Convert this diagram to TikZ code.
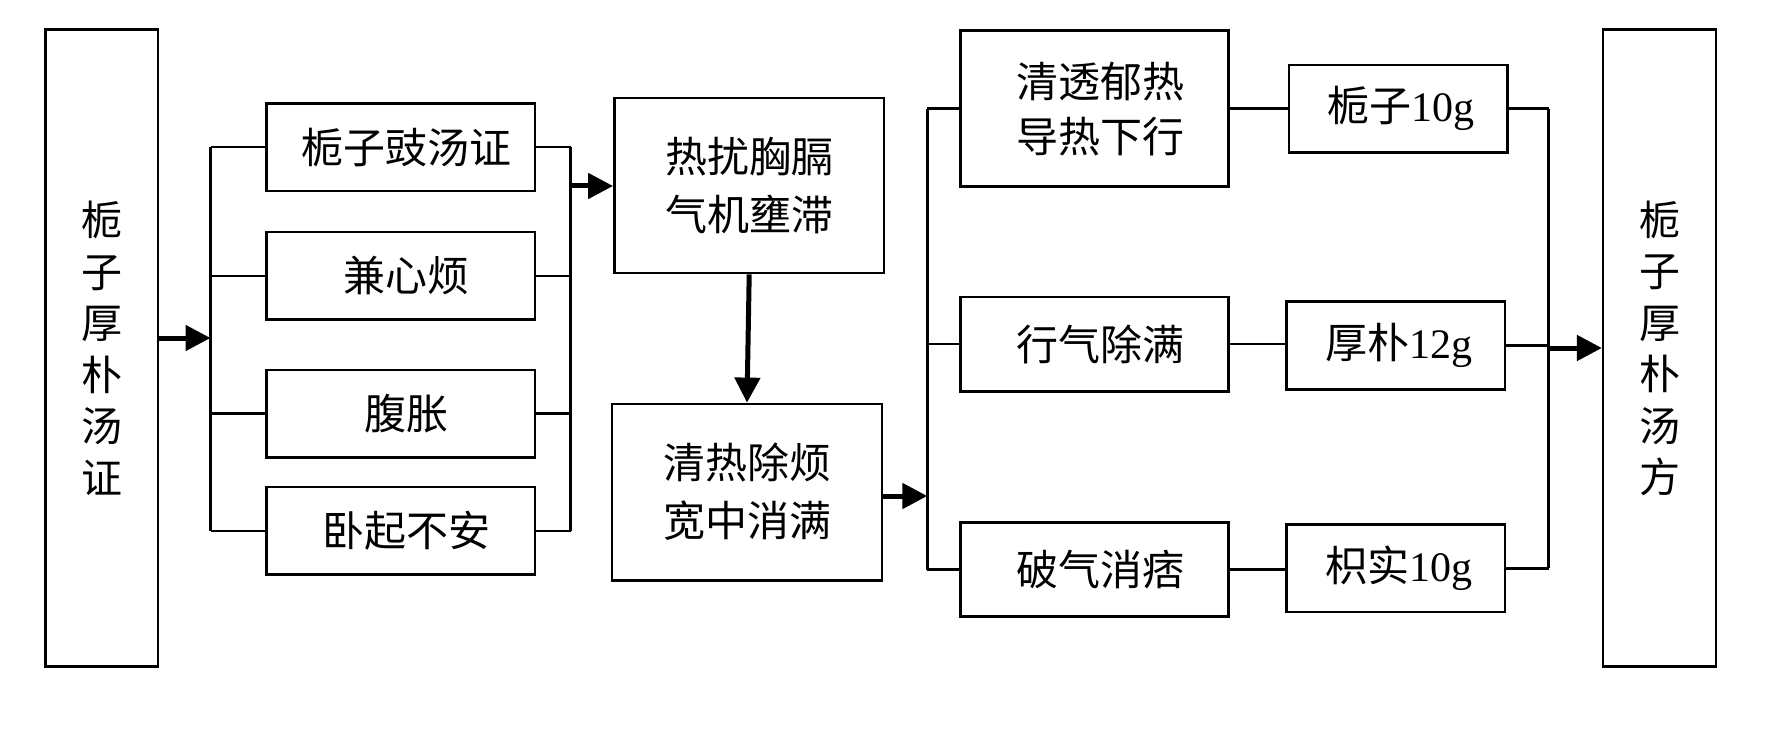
\documentclass[tikz,border=0pt]{standalone}
\usepackage{fontspec}
\setmainfont{Liberation Serif}
\newfontfamily\cjk{Noto Sans CJK SC}
\usetikzlibrary{arrows.meta}
\begin{document}
\begin{tikzpicture}[x=1pt,y=-1pt,
  bx/.style={draw, line width=2.6pt, inner sep=0pt, align=center,
    font=\cjk\fontsize{42}{58}\selectfont},
  tall/.style={bx, minimum width=112.7pt, minimum height=637pt,
    font=\cjk\fontsize{41}{51.5}\selectfont},
  conn/.style={line width=2.4pt},
  arr/.style={line width=5pt, -{Triangle[length=25pt,width=25pt]}}]
\useasboundingbox (0,0) rectangle (1784,735);
% left and right tall boxes
\node[tall] (A) at (101.8,348.2) {栀\\子\\厚\\朴\\汤\\证};
\node[tall] (G) at (1659.5,348.2) {栀\\子\\厚\\朴\\汤\\方};
% symptom boxes
\node[bx, minimum width=268.6pt, minimum height=87.6pt] (B1) at (400.5,147.3) {\hspace*{12pt}栀子豉汤证};
\node[bx, minimum width=268.6pt, minimum height=87.6pt] (B2) at (400.5,275.9) {\hspace*{12pt}兼心烦};
\node[bx, minimum width=268.6pt, minimum height=87.6pt] (B3) at (400.5,413.6) {\hspace*{12pt}腹胀};
\node[bx, minimum width=268.6pt, minimum height=87.6pt] (B4) at (400.5,530.8) {\hspace*{12pt}卧起不安};
% middle boxes
\node[bx, minimum width=269.7pt, minimum height=175.2pt] (C) at (749.2,185.5) {热扰胸膈\\气机壅滞};
\node[bx, minimum width=269.7pt, minimum height=176.4pt] (D) at (747,492.1) {清热除烦\\宽中消满};
% function boxes
\node[bx, minimum width=268.5pt, minimum height=155.9pt, font=\cjk\fontsize{42}{55}\selectfont] (E1) at (1094.5,108.7) {\hspace*{12pt}清透郁热\\\hspace*{12pt}导热下行};
\node[bx, minimum width=268.5pt, minimum height=94.4pt] (E2) at (1094.5,344.2) {\hspace*{12pt}行气除满};
\node[bx, minimum width=268.5pt, minimum height=94.5pt] (E3) at (1094.5,569.5) {\hspace*{12pt}破气消痞};
% herb boxes
\node[bx, minimum width=218.6pt, minimum height=87.6pt] (F1) at (1398.3,108.7) {\hspace*{6pt}栀子{\rmfamily 10g}};
\node[bx, minimum width=218.6pt, minimum height=87.6pt] (F2) at (1395.5,345.5) {\hspace*{6pt}厚朴{\rmfamily 12g}};
\node[bx, minimum width=218.6pt, minimum height=87.6pt] (F3) at (1395.5,568.3) {\hspace*{6pt}枳实{\rmfamily 10g}};
% bus coordinates
\coordinate (busL) at (210.5,338);
\coordinate (busR) at (570.5,186);
\coordinate (busM) at (927.3,496);
\coordinate (busRR) at (1548.5,348);
% left group
\draw[arr] (A.east |- busL) -- (busL);
\draw[conn] (busL |- B1.west) -- (busL |- B4.west);
\foreach \n in {B1,B2,B3,B4} {
  \draw[conn] (busL |- \n.west) -- (\n.west);
  \draw[conn] (\n.east) -- (\n.east -| busR);
}
\draw[conn] (busR |- B1.east) -- (busR |- B4.east);
\draw[arr] (busR) -- (C.west |- busR);
% middle
\draw[arr] (C.south) -- (D.north);
\draw[arr] (D.east |- busM) -- (busM);
\draw[conn] (busM |- E1.west) -- (busM |- E3.west);
\foreach \n in {E1,E2,E3} {
  \draw[conn] (busM |- \n.west) -- (\n.west);
}
\draw[conn] (E1.east) -- (E1.east -| F1.west);
\draw[conn] (E2.east) -- (E2.east -| F2.west);
\draw[conn] (E3.east) -- (E3.east -| F3.west);
\foreach \n in {F1,F2,F3} {
  \draw[conn] (\n.east) -- (\n.east -| busRR);
}
\draw[conn] (busRR |- F1.east) -- (busRR |- F3.east);
\draw[arr] (busRR) -- (G.west |- busRR);
\end{tikzpicture}
\end{document}
